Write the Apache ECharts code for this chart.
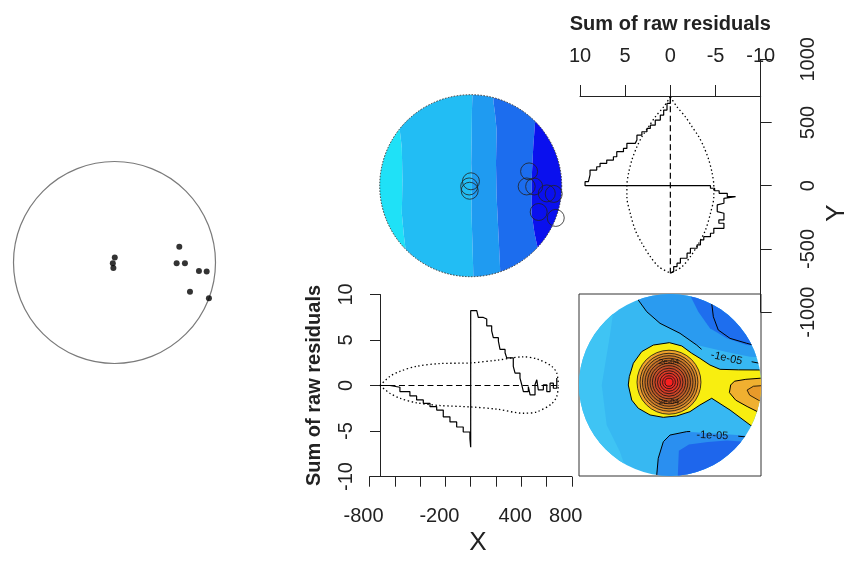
<!DOCTYPE html>
<html><head><meta charset="utf-8">
<script src="https://cdn.jsdelivr.net/npm/echarts@6/dist/echarts.min.js"></script>
<style>html,body{margin:0;padding:0;background:#fff}#c{width:847px;height:563px}</style>
</head><body><div id="c"></div>
<script>
// ---------------- DATA ----------------
const R = 720; // window radius (data units)
// data points
const ptX = [2, -12, -8, 462, 443, 502, 602, 657, 538, 673];
const ptY = [35, -6, -40, 113, -6, -6, -61, -65, -208, -255];

// right marginal panel: cumulative raw residual vs Y
const yResY = [703,651,598,558,519,479,453,427,400,361,335,295,269,229,203,177,150,124,85,32,0,0,-20,-40,-60,-87,-100,-139,-152,-205,-218,-271,-297,-337,-376,-403,-429,-468,-495,-534,-574,-613,-640,-680,-692];
const yResV = [0,0.37,0.74,1.11,1.67,2.22,2.59,3.15,3.70,3.89,4.81,5.19,5.93,6.30,7.04,7.78,8.15,8.89,9.07,9.44,9.44,-4.44,-4.9,-5.4,-6.3,-7.22,-5.93,-6.11,-5.19,-5.37,-5.93,-5.37,-5.93,-4.81,-4.44,-3.70,-3.33,-2.96,-2.22,-1.85,-1.11,-0.74,-0.37,-0.19,0];
const yEnvY = [703,624,545,466,387,308,203,98,0,-87,-218,-350,-455,-561,-640,-692];
const yEnvV = [0,0.74,1.67,2.41,3.15,3.70,4.26,4.63,4.81,4.81,4.44,3.89,3.15,2.22,1.30,0];
const yZero = [703,-692];

// bottom marginal panel: cumulative raw residual vs X
const xResX = [-718,-639,-560,-481,-428,-375,-322,-269,-217,-164,-111,-59,-6,0,0,48,60,100,127,166,179,219,232,272,285,337,351,390,404,417,456,470,509,523,535,575,602,628,654,681,681];
const xResV = [0,-0.19,-0.67,-1.15,-1.59,-1.96,-2.33,-2.70,-3.44,-4.0,-4.56,-5.11,-5.85,-6.78,8.22,8.22,7.48,7.3,6.56,6.0,5.26,4.89,3.96,3.6,3.04,2.11,1.37,0.82,0.08,-0.67,-0.11,-1.04,0.08,0.63,-0.48,0.08,-0.67,0.26,-0.3,0.82,-0.1];
const xEnvX = [-718,-639,-560,-428,-243,-6,206,417,523,641,681,694];
const xEnvU = [0,1.0,1.56,2.11,2.41,2.48,2.78,3.15,2.93,2.11,1.37,0];
const xEnvL = [0,-0.85,-1.4,-1.9,-2.2,-2.35,-2.6,-3.05,-2.9,-2.0,-1.2,0];
const xZero = [-718,681];
const xTickLabels = [-800,-200,400,800];

// smoothed residual image (top centre): level boundaries (x at y)
const imgBound1 = [[-600,760],[-575,560],[-545,300],[-540,45],[-545,-219],[-528,-400],[-508,-560],[-500,-760]];
const imgBound2 = [[15,760],[10,600],[8,400],[4,177],[10,0],[6,-200],[12,-400],[18,-600],[22,-760]];
const imgBound3 = [[179,760],[180,665],[192,573],[205,441],[200,177],[205,-86],[218,-350],[232,-640],[236,-760]];
const imgBound4 = [[580,760],[535,560],[509,494],[495,309],[482,45],[482,-219],[505,-377],[522,-456],[580,-700],[610,-760]];

// contour panel (bottom right): colour regions
const conLeft = [[-800,672],[-435,672],[-475,396],[-540,0],[-501,-316],[-396,-528],[-316,-760],[-800,-760]];
const conTopMid = [[-293,760],[-251,672],[-184,580],[-79,488],[79,409],[211,316],[449,261],[633,224],[800,214],[800,760]];
const conTopDark = [[158,760],[158,712],[224,580],[316,449],[449,369],[607,316],[800,301],[800,760]];
const conBotMid = [[-110,-760],[-105,-712],[-93,-580],[-53,-449],[0,-396],[132,-369],[528,-396],[712,-411],[800,-420],[800,-760]];
const conBotDark = [[60,-760],[70,-520],[150,-470],[300,-450],[450,-440],[620,-450],[700,-470],[800,-480],[800,-760]];
const conYellow = [[-5,335],[-132,316],[-224,264],[-290,172],[-322,66],[-330,0],[-303,-119],[-251,-184],[-158,-237],[-53,-256],[53,-245],[158,-211],[237,-158],[330,-105],[475,-198],[633,-316],[696,-356],[800,-400],[800,118],[696,119],[540,120],[396,124],[316,158],[237,211],[172,251],[93,309]];
const conOrange = [[470,-60],[480,0],[510,30],[600,45],[800,60],[800,-260],[700,-215],[610,-170],[520,-120]];
const conOrange2 = [[610,-40],[660,-10],[800,0],[800,-150],[700,-120],[630,-80]];
const conPeak = [-8, 22];
const conRingR = [253,229,210,190,170,150,131,111,91,71,51,32];
// contour lines
const conLine1 = [[-293,760],[-251,672],[-184,580],[-79,488],[79,409],[211,316],[250,282]];
const conLine1b = [[646,184],[760,162]];
const conLine2 = [[330,646],[343,540],[382,435],[475,369],[607,330],[760,290]];
const conLine3 = [[-105,-760],[-105,-712],[-93,-580],[-53,-449],[0,-396],[132,-369],[160,-368]];
const conLine3b = [[540,-405],[760,-425]];
const conLabels = [[447,212,'-1e-05',-0.22],[335,-400,'-1e-05',-0.04],[-8,180,'2e-04',0],[-8,-130,'2e-04',0]];

// ---------------- STYLE ----------------
const FONT = 'Liberation Sans, Arial, sans-serif';
const imgColors = ['#1FE1F7','#22BDF4','#1F9BF1','#1C6DEE','#0A10EE'];
const conBase = '#37B8F2';
const conColors = {left:'#3FC4F4', topMid:'#2A9BF0', topDark:'#1E6EEE', botMid:'#2A8FF0', botDark:'#1E66EC', yellow:'#F8EE10', orange:'#F0B030', orange2:'#E89A2A'};
const ringColors = ['#EFA22C','#DC8E2C','#CC7C2A','#C26E28','#BC6428','#BE5A28','#C44E28','#CE4428','#DA3A26','#E43026','#EE2824','#FA2020'];

const chart = echarts.init(document.getElementById('c'));

function clipOf(api){
  const c = api.coord([0,0]);
  const r = api.size([R,R])[0];
  return {type:'circle', shape:{cx:c[0], cy:c[1], r:r}};
}
function poly(api, pts, fill, stroke, lw){
  return {type:'polygon', shape:{points: pts.map(p=>api.coord(p))},
    style:{fill: fill, stroke: stroke || 'none', lineWidth: lw || 1}, clipPath: clipOf(api)};
}
function pline(api, pts){
  return {type:'polyline', shape:{points: pts.map(p=>api.coord(p))},
    style:{fill:'none', stroke:'#000', lineWidth:1}, clipPath: clipOf(api)};
}
function stepY(vals, ys){ // vertical then horizontal steps (Y is the base variable)
  const out = [];
  for (let i=0;i<vals.length;i++){
    if (i>0) out.push([vals[i-1], ys[i]]);
    out.push([vals[i], ys[i]]);
  }
  return out;
}
const zip = (a,b)=>a.map((v,i)=>[v,b[i]]);

const lineBlack = {color:'#000', width:1.2};
const dotted = {color:'#000', width:1.3, type:[1.4,2.6]};
const dashed = {color:'#000', width:1.2, type:[6,3.5]};
const axisTxt = {fontFamily:FONT, fontSize:20, color:'#222'};

const option = {
  animation:false,
  textStyle:{fontFamily:FONT},
  grid:[
    {left:13.5, top:161.5, width:202, height:202},
    {left:379.7, top:94.7, width:182, height:182},
    {left:580, top:96, width:180.7, height:216.1},
    {left:580, top:59.3, width:180.7, height:252.8},
    {left:380, top:294.5, width:191.8, height:182},
    {left:369.6, top:294.5, width:202.2, height:182.2},
    {left:579, top:294, width:182, height:182, show:true, borderColor:'#333', borderWidth:1, backgroundColor:'transparent'}
  ],
  xAxis:[
    {gridIndex:0, type:'value', min:-R, max:R, show:false},
    {gridIndex:1, type:'value', min:-R, max:R, show:false},
    {gridIndex:2, type:'value', min:-10, max:10, interval:5, inverse:true, position:'top',
      axisLine:{show:true, onZero:false, lineStyle:{color:'#222', width:1}},
      axisTick:{show:true, length:11, lineStyle:{color:'#222'}},
      axisLabel:{...axisTxt, margin:30, formatter:v=>String(v)},
      splitLine:{show:false},
      name:'Sum of raw residuals', nameLocation:'middle', nameGap:62,
      nameTextStyle:{fontFamily:FONT, fontSize:20, fontWeight:'bold', color:'#222'}},
    {gridIndex:3, type:'value', min:-10, max:10, show:false},
    {gridIndex:4, type:'value', min:-717.6, max:800, show:false},
    {gridIndex:5, type:'value', min:-800, max:800, interval:200, position:'bottom',
      axisLine:{show:true, onZero:false, lineStyle:{color:'#222', width:1}},
      axisTick:{show:true, length:10, lineStyle:{color:'#222'}},
      axisLabel:{...axisTxt, margin:30, showMinLabel:true, showMaxLabel:true, padding:[0,12,0,0],
        formatter:v=> xTickLabels.includes(v) ? String(v) : ''},
      splitLine:{show:false}},
    {gridIndex:6, type:'value', min:-R, max:R, show:false}
  ],
  yAxis:[
    {gridIndex:0, type:'value', min:-R, max:R, show:false},
    {gridIndex:1, type:'value', min:-R, max:R, show:false},
    {gridIndex:2, type:'value', min:-1000, max:709.65, show:false},
    {gridIndex:3, type:'value', min:-1000, max:1000, interval:500, position:'right',
      axisLine:{show:true, onZero:false, lineStyle:{color:'#222', width:1}},
      axisTick:{show:true, length:11, lineStyle:{color:'#222'}},
      axisLabel:{...axisTxt, rotate:90, margin:38, formatter:v=>String(v)},
      splitLine:{show:false}},
    {gridIndex:4, type:'value', min:-10, max:10, interval:5, position:'left',
      axisLine:{show:true, onZero:false, lineStyle:{color:'#222', width:1}},
      axisTick:{show:true, length:10, lineStyle:{color:'#222'}},
      axisLabel:{...axisTxt, rotate:90, margin:24, formatter:v=>String(v)},
      splitLine:{show:false},
      name:'Sum of raw residuals', nameLocation:'middle', nameGap:56,
      nameTextStyle:{fontFamily:FONT, fontSize:20, fontWeight:'bold', color:'#222'}},
    {gridIndex:5, type:'value', min:-10, max:10, show:false},
    {gridIndex:6, type:'value', min:-R, max:R, show:false}
  ],
  graphic:[
    {type:'text', x:478, y:543, style:{text:'X', font:'26px '+FONT, fill:'#222', align:'center', verticalAlign:'middle'}},
    {type:'text', x:837, y:213, rotation:Math.PI/2, style:{text:'Y', font:'26px '+FONT, fill:'#222', align:'center', verticalAlign:'middle'}}
  ],
  series:[
    {type:'custom', xAxisIndex:0, yAxisIndex:0, data:[[0,0]], silent:true,
      renderItem:(p,api)=>{const c=api.coord([0,0]); const r=api.size([R,R])[0];
        return {type:'circle', shape:{cx:c[0],cy:c[1],r:r}, style:{fill:'none', stroke:'#7a7a7a', lineWidth:1.2}};}},
    {type:'scatter', xAxisIndex:0, yAxisIndex:0, data:zip(ptX,ptY), symbol:'circle', symbolSize:6,
      itemStyle:{color:'#000'}, silent:true},
    {type:'custom', xAxisIndex:1, yAxisIndex:1, data:[[0,0]], silent:true,
      renderItem:(p,api)=>{
        const bounds=[imgBound1,imgBound2,imgBound3,imgBound4];
        const ch=[];
        for(let i=0;i<5;i++){
          const L = i===0 ? [[-800,800],[-800,-800]] : bounds[i-1];
          const Rr = i===4 ? [[800,800],[800,-800]] : bounds[i];
          ch.push(poly(api, L.concat(Rr.slice().reverse()), imgColors[i]));
        }
        const c=api.coord([0,0]); const r=api.size([R,R])[0];
        ch.push({type:'circle', shape:{cx:c[0],cy:c[1],r:r}, style:{fill:'none', stroke:'#333', lineWidth:1, lineDash:[1.5,1.5]}});
        return {type:'group', children:ch};
      }},
    {type:'scatter', xAxisIndex:1, yAxisIndex:1, data:zip(ptX,ptY), symbol:'circle', symbolSize:17,
      itemStyle:{color:'rgba(0,0,0,0)', borderColor:'#222', borderWidth:1}, silent:true},
    {type:'line', xAxisIndex:2, yAxisIndex:2, data:zip(yEnvV,yEnvY), symbol:'none', smooth:0.3, lineStyle:dotted, silent:true},
    {type:'line', xAxisIndex:2, yAxisIndex:2, data:zip(yEnvV.map(v=>-v),yEnvY), symbol:'none', smooth:0.3, lineStyle:dotted, silent:true},
    {type:'line', xAxisIndex:2, yAxisIndex:2, data:zip([0,0],yZero), symbol:'none', lineStyle:dashed, silent:true},
    {type:'line', xAxisIndex:2, yAxisIndex:2, data:stepY(yResV,yResY), symbol:'none', lineStyle:lineBlack, silent:true},
    {type:'line', xAxisIndex:4, yAxisIndex:4, data:zip(xEnvX,xEnvU), symbol:'none', smooth:0.3, lineStyle:dotted, silent:true},
    {type:'line', xAxisIndex:4, yAxisIndex:4, data:zip(xEnvX,xEnvL), symbol:'none', smooth:0.3, lineStyle:dotted, silent:true},
    {type:'line', xAxisIndex:4, yAxisIndex:4, data:zip(xZero,[0,0]), symbol:'none', lineStyle:dashed, silent:true},
    {type:'line', xAxisIndex:4, yAxisIndex:4, data:zip(xResX,xResV), symbol:'none', step:'end', lineStyle:lineBlack, silent:true},
    {type:'custom', xAxisIndex:6, yAxisIndex:6, data:[[0,0]], silent:true,
      renderItem:(p,api)=>{
        const ch=[];
        const c=api.coord([0,0]); const r=api.size([R,R])[0];
        ch.push({type:'circle', shape:{cx:c[0],cy:c[1],r:r}, style:{fill:conBase, stroke:'none'}});
        ch.push(poly(api, conLeft, conColors.left));
        ch.push(poly(api, conTopMid, conColors.topMid));
        ch.push(poly(api, conTopDark, conColors.topDark));
        ch.push(poly(api, conBotMid, conColors.botMid));
        ch.push(poly(api, conBotDark, conColors.botDark));
        ch.push(poly(api, conYellow, conColors.yellow, '#000', 1));
        ch.push(poly(api, conOrange, conColors.orange, '#000', 1));
        ch.push(poly(api, conOrange2, conColors.orange2, '#000', 0.8));
        const pc = api.coord(conPeak);
        conRingR.forEach((rr,i)=>{
          ch.push({type:'circle', shape:{cx:pc[0], cy:pc[1], r:api.size([rr,rr])[0]},
            style:{fill:ringColors[i], stroke:'#111', lineWidth:0.8}});
        });
        [conLine1,conLine1b,conLine2,conLine3,conLine3b].forEach(l=>ch.push(pline(api,l)));
        conLabels.forEach(t=>{
          const q = api.coord([t[0],t[1]]);
          ch.push({type:'text', x:q[0], y:q[1], rotation:t[3],
            style:{text:t[2], font:(t[2]==='2e-04'?'8px ':'11px ')+FONT, fill:'#111', align:'center', verticalAlign:'middle'}});
        });
        return {type:'group', children:ch};
      }}
  ]
};
chart.setOption(option);
</script></body></html>
